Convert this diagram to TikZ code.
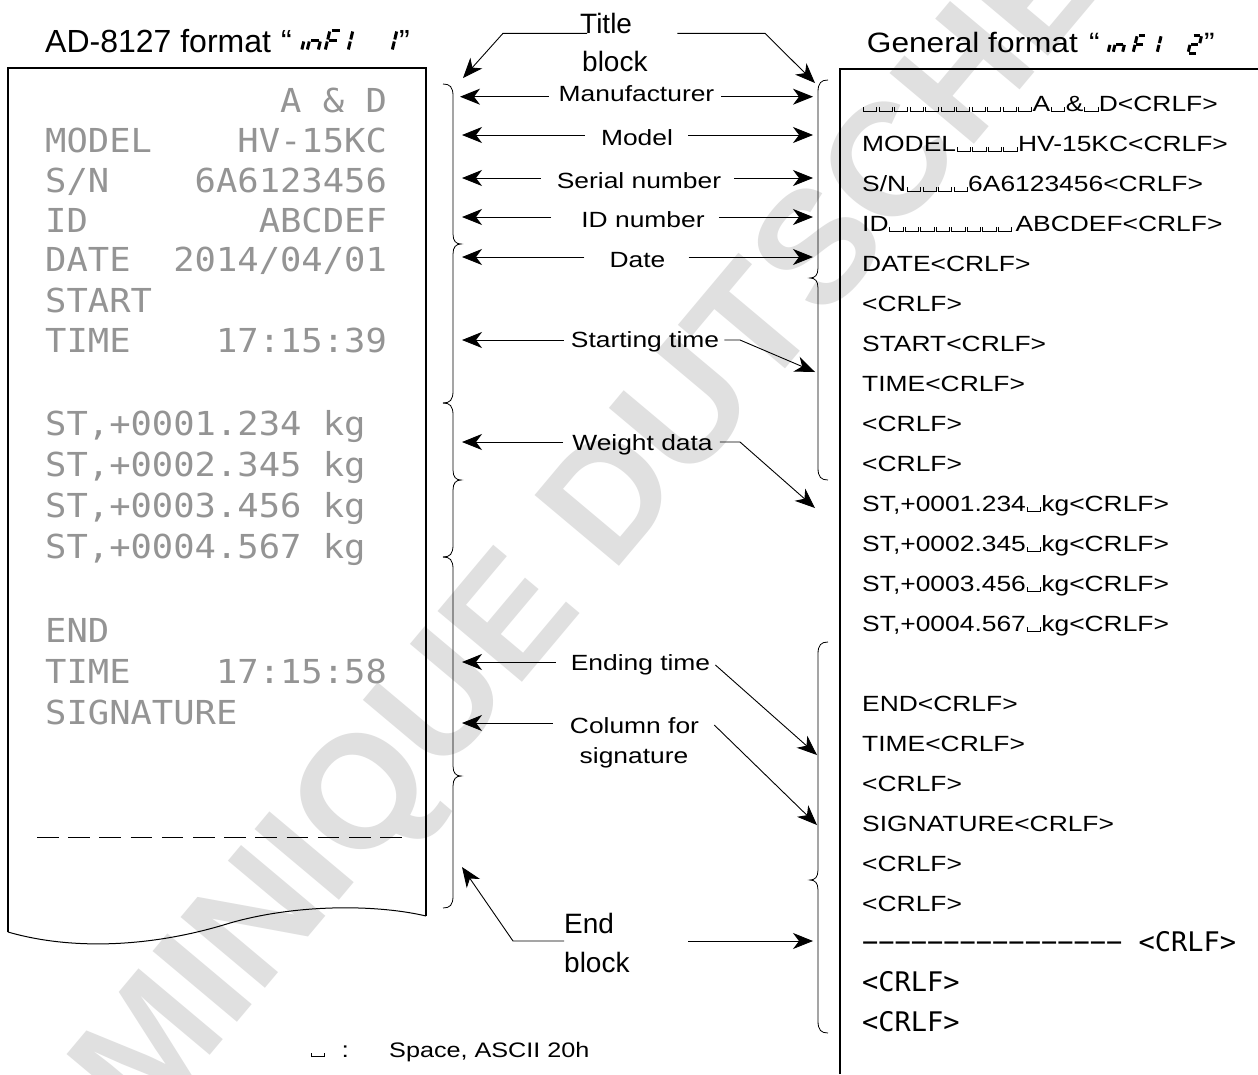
\documentclass[tikz,border=0pt]{standalone}
\usepackage{fontspec}
\setmainfont{Liberation Sans}[FakeStretch=1.2]
\newfontfamily\titlefontA{Liberation Sans}
\newfontfamily\titlefontB{Liberation Sans}[FakeStretch=1.13]
\newfontfamily\dotfont{DejaVu Sans Mono}[FakeStretch=1.075]
\newfontfamily\gothfont{DejaVu Sans Mono}
\usetikzlibrary{arrows.meta}

\newcommand\vs{\kern0.8pt\rule{0.9pt}{4.5pt}\rule{12.4pt}{0.9pt}\rule{0.9pt}{4.5pt}\kern0.5pt}
\newcommand\lblfont{\fontsize{22}{26}\selectfont}

\newcommand\segA{\draw[segline] (1.5,-21) -- (9.5,-21);}
\newcommand\segB{\draw[segline] (11,-19.5) -- (11,-11.5);}
\newcommand\segC{\draw[segline] (11,-9.5) -- (11,-1.5);}
\newcommand\segD{\draw[segline] (1.5,0) -- (9.5,0);}
\newcommand\segE{\draw[segline] (0,-9.5) -- (0,-1.5);}
\newcommand\segF{\draw[segline] (0,-19.5) -- (0,-11.5);}
\newcommand\segG{\draw[segline] (1.5,-10.5) -- (9.5,-10.5);}

% right-pointing brace at x=453
\newcommand\bracR[3]{\draw[brace] (443,#1) .. controls (450,#1) and (453,#1+3) .. (453,#1+12) -- (453,#2-10) .. controls (453,#2-3) and (456,#2) .. (461,#2) .. controls (456,#2) and (453,#2+3) .. (453,#2+10) -- (453,#3-12) .. controls (453,#3-3) and (450,#3) .. (443,#3);}
% left-pointing brace at x=818
\newcommand\bracL[3]{\draw[brace] (828,#1) .. controls (821,#1) and (818,#1+3) .. (818,#1+12) -- (818,#2-10) .. controls (818,#2-3) and (815,#2) .. (810,#2) .. controls (815,#2) and (818,#2+3) .. (818,#2+10) -- (818,#3-12) .. controls (818,#3-3) and (821,#3) .. (828,#3);}

\tikzset{
  lab/.style={inner sep=0pt, font=\lblfont, text height=20pt, text depth=0pt},
  arr/.style={line width=0.9pt, -{Stealth[length=20pt,width=16pt,inset=6pt]}},
  brace/.style={line width=0.8pt},
  dotline/.style={font=\dotfont\fontsize{33}{36}\selectfont, text=black!42, inner sep=0pt, anchor=base west},
  rline/.style={font=\lblfont, inner sep=0pt, anchor=base west},
  gline/.style={font=\gothfont\fontsize{27}{30}\selectfont, inner sep=0pt, anchor=base west},
  segline/.style={line width=3pt},
  wm/.style={font=\titlefontA\bfseries\fontsize{160}{165}\selectfont, text=black!12, inner sep=0pt},
  bigt/.style={font=\titlefontA\fontsize{28}{32}\selectfont, inner sep=0pt, anchor=base west},
}

\begin{document}
\begin{tikzpicture}[x=1pt,y=-1pt]
\useasboundingbox (0,0) rectangle (1258,1074);
\fill[white] (0,0) rectangle (1258,1074);

% watermark
\begin{scope}
\clip (0,0) rectangle (1258,1074);
\node[wm, rotate=50, anchor=base west] (wm) at (-10,1317) {DOMINIQUE DUTSCHER};
\end{scope}

% ---------- titles ----------
\node[font=\titlefontA\fontsize{32}{34}\selectfont, inner sep=0pt, anchor=base west] (ta) at (45,52.3) {AD-8127 format};
\node[font=\titlefontA\fontsize{32}{34}\selectfont, inner sep=0pt, anchor=base west] (q1) at (281,52.3) {“};
\node[font=\titlefontA\fontsize{32}{34}\selectfont, inner sep=0pt, anchor=base west] (q2) at (399,52.3) {”};
\begin{scope}[shift={(301.5,51)},xslant=0.24] \segE \end{scope}
\begin{scope}[shift={(307,51)},xslant=0.24] \segE \segG \segC \end{scope}
\begin{scope}[shift={(325,51)},xslant=0.24] \segA \segF \segE \segG \end{scope}
\begin{scope}[shift={(337,51)},xslant=0.24] \segB \segC \end{scope}
\begin{scope}[shift={(381,51)},xslant=0.24] \segB \segC \end{scope}

\node[font=\titlefontB\fontsize{28}{32}\selectfont, inner sep=0pt, anchor=base west] (tb) at (866.7,52.7) {General format};
\node[font=\titlefontB\fontsize{28}{32}\selectfont, inner sep=0pt, anchor=base west] (q3) at (1089,52.7) {“};
\node[font=\titlefontB\fontsize{28}{32}\selectfont, inner sep=0pt, anchor=base west] (q4) at (1204,52.7) {”};
\begin{scope}[shift={(1108,53)},xslant=0.24,scale=0.857] \segE \end{scope}
\begin{scope}[shift={(1113,53)},xslant=0.24,scale=0.857] \segE \segG \segC \end{scope}
\begin{scope}[shift={(1133,53)},xslant=0.24,scale=0.857] \segA \segF \segE \segG \end{scope}
\begin{scope}[shift={(1147.6,53)},xslant=0.24,scale=0.857] \segB \segC \end{scope}
\begin{scope}[shift={(1188,53)},xslant=0.24,scale=0.857] \segA \segB \segG \segE \segD \end{scope}

% ---------- left printout ----------
\draw[line width=1.3pt] (8,932) -- (8,68) -- (426,68) -- (426,916);
\draw[line width=1pt] (8,932) .. controls (70,950) and (150,948) .. (230,923) .. controls (300,903) and (380,905) .. (426,916);
\draw[line width=1pt, dash pattern=on 21.5pt off 9.7pt] (37,837) -- (411,837);

\node[dotline] (p1) at (45,112) {\hphantom{00000000000}A\hphantom{0}\&\hphantom{0}D};
\node[dotline] (p2) at (45,152) {MODEL\hphantom{0000}HV-15KC};
\node[dotline] (p3) at (45,192) {S/N\hphantom{0000}6A6123456};
\node[dotline] (p4) at (45,232) {ID\hphantom{00000000}ABCDEF};
\node[dotline] (p5) at (45,271) {DATE\hphantom{00}2014/04/01};
\node[dotline] (p6) at (45,312) {START};
\node[dotline] (p7) at (45,352) {TIME\hphantom{0000}17:15:39};
\node[dotline] (p8) at (45,435) {ST,+0001.234\hphantom{0}kg};
\node[dotline] (p9) at (45,476) {ST,+0002.345\hphantom{0}kg};
\node[dotline] (p10) at (45,517) {ST,+0003.456\hphantom{0}kg};
\node[dotline] (p11) at (45,558) {ST,+0004.567\hphantom{0}kg};
\node[dotline] (p12) at (45,642) {END};
\node[dotline] (p13) at (45,683) {TIME\hphantom{0000}17:15:58};
\node[dotline] (p14) at (45,724) {SIGNATURE};

% ---------- right listing ----------
\draw[line width=2pt] (840,1074) -- (840,69) -- (1258,69);
\node[rline] (r0) at (862,111.7) {\vs\vs\vs\vs\vs\vs\vs\vs\vs\vs\vs A\vs\&\vs D<CRLF>};
\node[rline] (r1) at (862,151.7) {MODEL\vs\vs\vs\vs HV-15KC<CRLF>};
\node[rline] (r2) at (862,191.7) {S/N\vs\vs\vs\vs 6A6123456<CRLF>};
\node[rline] (r3) at (862,231.7) {ID\vs\vs\vs\vs\vs\vs\vs\vs\kern3pt ABCDEF<CRLF>};
\node[rline] (r4) at (862,271.7) {DATE<CRLF>};
\node[rline] (r5) at (862,311.7) {<CRLF>};
\node[rline] (r6) at (862,351.7) {START<CRLF>};
\node[rline] (r7) at (862,391.7) {TIME<CRLF>};
\node[rline] (r8) at (862,431.7) {<CRLF>};
\node[rline] (r9) at (862,471.7) {<CRLF>};
\node[rline] (r10) at (862,511.7) {ST,+0001.234\vs kg<CRLF>};
\node[rline] (r11) at (862,551.7) {ST,+0002.345\vs kg<CRLF>};
\node[rline] (r12) at (862,591.7) {ST,+0003.456\vs kg<CRLF>};
\node[rline] (r13) at (862,631.7) {ST,+0004.567\vs kg<CRLF>};
\node[rline] (r15) at (862,711.7) {END<CRLF>};
\node[rline] (r16) at (862,751.7) {TIME<CRLF>};
\node[rline] (r17) at (862,791.7) {<CRLF>};
\node[rline] (r18) at (862,831.7) {SIGNATURE<CRLF>};
\node[rline] (r19) at (862,871.7) {<CRLF>};
\node[rline] (r20) at (862,911.7) {<CRLF>};
\node[gline] (r21) at (862,951.7) {−−−−−−−−−−−−−−−−\hphantom{0}<CRLF>};
\node[gline] (r22) at (862,991.7) {<CRLF>};
\node[gline] (r23) at (862,1031.7) {<CRLF>};

% ---------- braces ----------
\bracR{84}{244}{403}
\bracR{403}{480}{557}
\bracR{557}{776}{908}
\bracL{80}{278}{480}
\bracL{642}{880}{1033}

% ---------- middle labels ----------
\node[bigt] (tb1) at (580,33.3) {Title};
\node[bigt] (tb2) at (582,71.7) {block};
\coordinate (tbLk) at (503,33.3); \coordinate (tbLt) at (463,78);
\coordinate (tbRk) at (765,33.3); \coordinate (tbRt) at (815,83);
\draw[arr] ([xshift=7pt]tb1.base west) -- (tbLk) -- (tbLt);
\draw[arr] ([xshift=45pt]tb1.base east) -- (tbRk) -- (tbRt);

\node[lab, text height=15pt, text depth=5pt] (man) at (636.5,96.7) {Manufacturer};
\coordinate (manL) at (460,96.7); \coordinate (manR) at (813,96.7);
\draw[arr] ([xshift=-10pt]man.west) -- (manL);
\draw[arr] ([xshift=7pt]man.east) -- (manR);

\node[lab] (mod) at (637,135) {Model};
\coordinate (modL) at (462,135); \coordinate (modR) at (813,135);
\draw[arr] ([xshift=-16pt]mod.west) -- (modL);
\draw[arr] ([xshift=15pt]mod.east) -- (modR);

\node[lab] (ser) at (639,178) {Serial number};
\coordinate (serL) at (462,178); \coordinate (serR) at (813,178);
\draw[arr] ([xshift=-16pt]ser.west) -- (serL);
\draw[arr] ([xshift=13pt]ser.east) -- (serR);

\node[lab] (idn) at (643,217) {ID number};
\coordinate (idnL) at (462,217); \coordinate (idnR) at (813,217);
\draw[arr] ([xshift=-30pt]idn.west) -- (idnL);
\draw[arr] ([xshift=14pt]idn.east) -- (idnR);

\node[lab] (dat) at (637.5,257) {Date};
\coordinate (datL) at (462,257); \coordinate (datR) at (813,257);
\draw[arr] ([xshift=-25pt]dat.west) -- (datL);
\draw[arr] ([xshift=23pt]dat.east) -- (datR);

\node[lab, text height=17pt, text depth=3pt] (sta) at (645,340) {Starting time};
\coordinate (staL) at (462,340); \coordinate (staK) at (740,340); \coordinate (staR) at (815,372);
\draw[arr] ([xshift=-7pt]sta.west) -- (staL);
\draw[arr] ([xshift=5pt]sta.east) -- (staK) -- (staR);

\node[lab, text height=18pt, text depth=2pt] (wei) at (642.5,442) {Weight data};
\coordinate (weiL) at (462,442); \coordinate (weiK) at (740,442); \coordinate (weiR) at (815,508);
\draw[arr] ([xshift=-9pt]wei.west) -- (weiL);
\draw[arr] ([xshift=7pt]wei.east) -- (weiK) -- (weiR);

\node[lab, text height=18pt, text depth=2pt] (ent) at (640.5,662) {Ending time};
\coordinate (entL) at (462,662); \coordinate (entR) at (817,755);
\draw[arr] ([xshift=-15pt]ent.west) -- (entL);
\draw[arr] ([shift={(5pt,-3pt)}]ent.east) -- (entR);

\node[lab] (col) at (634.5,723) {Column for};
\node[lab, anchor=base] (colb) at (634,763) {signature};
\coordinate (colL) at (462,723); \coordinate (colR) at (817,825);
\draw[arr] ([xshift=-17pt]col.west) -- (colL);
\draw[arr] ([shift={(15pt,-2pt)}]col.east) -- (colR);

\node[bigt] (eb1) at (564,933) {End};
\node[bigt] (eb2) at (564,972) {block};
\coordinate (ebLk) at (513,941); \coordinate (ebLt) at (462,867); \coordinate (ebR) at (813,941);
\draw[arr] ([yshift=-8pt]eb1.base west) -- (ebLk) -- (ebLt);
\draw[arr] ([shift={(124pt,-8pt)}]eb1.base west) -- (ebR);

% ---------- legend ----------
\node[rline] (ls) at (310,1057) {\vs\kern16pt:};
\node[rline, font=\fontsize{21}{25}\selectfont] (lt) at (389,1057) {Space, ASCII 20h};
\end{tikzpicture}
\end{document}
